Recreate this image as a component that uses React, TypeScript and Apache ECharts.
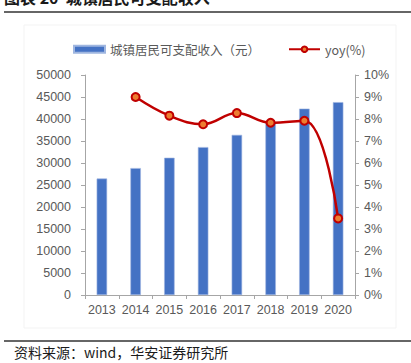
import React, { useEffect, useRef } from "react";
import * as echarts from "echarts";

const years = ["2013", "2014", "2015", "2016", "2017", "2018", "2019", "2020"];
const income = [26467, 28844, 31195, 33616, 36396, 39251, 42359, 43834];
const yoy: (number | null)[] = [null, 9.0, 8.15, 7.76, 8.27, 7.83, 7.92, 3.48];
const leftTicks = { min: 0, max: 50000, interval: 5000 };
const rightTicks = { min: 0, max: 10, interval: 1 };

const titleText = "图表 20  城镇居民可支配收入";
const sourceText = "资料来源：wind，华安证券研究所";
const barName = "城镇居民可支配收入（元）";
const lineName = "yoy(%)";

const latin = "'Liberation Sans', Arial, sans-serif";
const cjk = "'Noto Sans CJK SC', sans-serif";

export default function App() {
  const ref = useRef<HTMLDivElement>(null);
  useEffect(() => {
    if (!ref.current) return;
    const chart = echarts.init(ref.current, undefined, { renderer: "svg" });
    chart.setOption({
      animation: false,
      backgroundColor: "#ffffff",
      grid: { left: 85, right: 56, top: 75, bottom: 68 },
      legend: {
        left: 68,
        top: 38,
        itemWidth: 31,
        itemHeight: 7,
        itemGap: 28,
        textStyle: { color: "#595959", fontSize: 12.5, fontFamily: cjk },
        data: [
          { name: barName, icon: "rect" },
          { name: lineName },
        ],
      },
      xAxis: {
        type: "category",
        data: years,
        axisLine: { lineStyle: { color: "#a6a6a6", width: 1 } },
        axisTick: { show: true, length: 4, lineStyle: { color: "#a6a6a6" } },
        axisLabel: {
          color: "#595959",
          fontSize: 12.5,
          fontFamily: latin,
          margin: 8,
          interval: 0,
        },
      },
      yAxis: [
        {
          type: "value",
          ...leftTicks,
          axisLine: { show: true, lineStyle: { color: "#a6a6a6" } },
          axisTick: { show: true, length: 4, lineStyle: { color: "#a6a6a6" } },
          splitLine: { show: false },
          axisLabel: {
            color: "#595959",
            fontSize: 12.5,
            fontFamily: latin,
            margin: 14,
            formatter: (v: number) => String(v),
          },
        },
        {
          type: "value",
          ...rightTicks,
          position: "right",
          axisLine: { show: true, lineStyle: { color: "#a6a6a6" } },
          axisTick: { show: true, length: 4, lineStyle: { color: "#a6a6a6" } },
          splitLine: { show: false },
          axisLabel: {
            color: "#595959",
            fontSize: 12.5,
            fontFamily: latin,
            margin: 9,
            formatter: "{value}%",
          },
        },
      ],
      series: [
        {
          name: barName,
          type: "bar",
          data: income,
          barWidth: "31%",
          itemStyle: { color: "#4472C4", borderColor: "#9fb6e0", borderWidth: 0.6 },
        },
        {
          name: lineName,
          type: "line",
          yAxisIndex: 1,
          data: yoy,
          smooth: 0.4,
          symbol: "circle",
          symbolSize: 8,
          lineStyle: { color: "#C00000", width: 2.5 },
          itemStyle: { color: "#ED7D31", borderColor: "#C00000", borderWidth: 2 },
        },
      ],
      graphic: [
        {
          type: "rect",
          shape: { x: 24, y: 25, width: 372, height: 303 },
          style: { fill: "none", stroke: "#f3f3f3", lineWidth: 1 },
          silent: true,
        },
        {
          type: "text",
          x: 4,
          y: -11,
          style: {
            text: titleText,
            fontSize: 16,
            fontWeight: "bold",
            fontFamily: cjk,
            fill: "#1a1a1a",
            textVerticalAlign: "top",
          },
        },
        {
          type: "line",
          shape: { x1: 4, y1: 12, x2: 411, y2: 12 },
          style: { stroke: "#333333", lineWidth: 1.5 },
        },
        {
          type: "line",
          shape: { x1: 4, y1: 341, x2: 411, y2: 341 },
          style: { stroke: "#333333", lineWidth: 1.5 },
        },
        {
          type: "text",
          x: 14,
          y: 352,
          style: {
            text: sourceText,
            fontSize: 14,
            fontFamily: cjk,
            fill: "#1a1a1a",
            textVerticalAlign: "middle",
          },
        },
      ],
    });
    return () => chart.dispose();
  }, []);
  return (
    <div
      ref={ref}
      style={{ position: "fixed", left: 0, top: 0, width: 411, height: 363 }}
    />
  );
}
